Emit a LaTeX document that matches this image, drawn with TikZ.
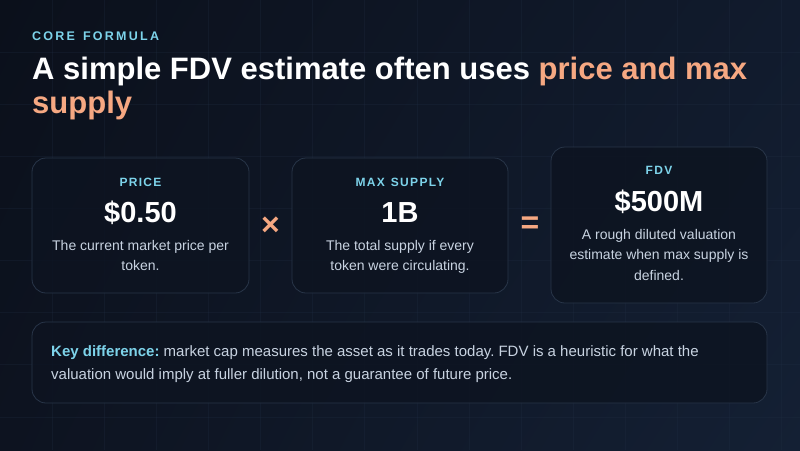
\documentclass[tikz,border=0pt]{standalone}
\usepackage{fontspec}
\usetikzlibrary{shadings}
\setmainfont{Liberation Sans}
\newfontfamily\capsfont{Liberation Sans}[LetterSpace=18]
\newfontfamily\labelfont{Liberation Sans}[LetterSpace=11]
\frenchspacing
\definecolor{bgA}{RGB}{11,16,27}
\definecolor{bgB}{RGB}{17,27,45}
\definecolor{bgC}{RGB}{13,19,32}
\definecolor{bgD}{RGB}{20,32,52}
\definecolor{gridc}{RGB}{34,48,70}
\definecolor{cardfill}{RGB}{13,20,33}
\definecolor{cardline}{RGB}{40,53,72}
\definecolor{cyanc}{RGB}{125,211,234}
\definecolor{salmon}{RGB}{246,168,130}
\definecolor{desc}{RGB}{200,211,225}
\begin{document}
\begin{tikzpicture}[x=1pt,y=-1pt,
  card/.style={draw=cardline,fill=cardfill,fill opacity=0.85,draw opacity=1,line width=0.8pt,rounded corners=14pt,inner sep=0pt},
  capslabel/.style={anchor=base,text=cyanc,font=\labelfont\bfseries\fontsize{12}{14}\selectfont},
  bignum/.style={anchor=base,text=white,font=\bfseries\fontsize{29}{32}\selectfont},
  desctext/.style={anchor=base,text=desc,font=\fontsize{14}{20}\selectfont},
  oper/.style={text=salmon,font=\bfseries\fontsize{32}{32}\selectfont,inner sep=0pt}]
\path[use as bounding box] (0,0) rectangle (800,450);
\shade[upper left=bgA,upper right=bgB,lower left=bgC,lower right=bgD] (0,0) rectangle (800,450);
\begin{scope}[draw=gridc,line width=0.6pt,opacity=0.25]
\foreach \i in {1,...,15} {\draw (52.1*\i,0) -- (52.1*\i,450);}
\foreach \j in {1,...,8} {\draw (0,52.1*\j) -- (800,52.1*\j);}
\end{scope}
% header
\node[anchor=base west,inner sep=0pt,text=cyanc,font=\capsfont\bfseries\fontsize{12.5}{14}\selectfont] (kicker) at (32,40) {CORE\hspace{2.3pt} FORMULA};
\node[anchor=base west,inner sep=0pt,text=white,font=\bfseries\fontsize{31}{34}\selectfont] (title1) at (32,79) {A simple FDV estimate often uses \textcolor{salmon}{price and max}};
\node[anchor=base west,inner sep=0pt,text=salmon,font=\bfseries\fontsize{31}{34}\selectfont] (title2) at (32,113) {supply};
% cards
\node[card,minimum width=217pt,minimum height=135pt] (c1) at (140.5,225.5) {};
\node[card,minimum width=216pt,minimum height=135pt] (c2) at (400,225.5) {};
\node[card,minimum width=216pt,minimum height=156pt] (c3) at (659,225) {};
\node[capslabel] (l1) at (140.5,186) {PRICE};
\node[bignum] (n1) at (140.5,222) {\$0.50};
\node[desctext] (d1a) at (140.5,250) {The current market price per};
\node[desctext] (d1b) at (140.5,270) {token.};
\node[capslabel] (l2) at (400,186) {MAX\hspace{1.3pt} SUPPLY};
\node[bignum] (n2) at (400,222) {1B};
\node[desctext] (d2a) at (400,250) {The total supply if every};
\node[desctext] (d2b) at (400,270) {token were circulating.};
\node[capslabel] (l3) at (659,174) {FDV};
\node[bignum] (n3) at (659,211) {\$500M};
\node[desctext] (d3a) at (659,239) {A rough diluted valuation};
\node[desctext] (d3b) at (659,259.5) {estimate when max supply is};
\node[desctext] (d3c) at (659,280) {defined.};
% operators
\node[oper] (times) at (270.5,226) {×};
\node[oper] (eq) at (530,225) {=};
% bottom box
\node[card,minimum width=735pt,minimum height=81pt] (kd) at (399.5,362.5) {};
\node[anchor=base west,inner sep=0pt,text=desc,font=\fontsize{15}{23}\selectfont] (kd1) at (51,356) {\textcolor{cyanc}{\bfseries Key difference:} market cap measures the asset as it trades today. FDV is a heuristic for what the};
\node[anchor=base west,inner sep=0pt,text=desc,font=\fontsize{15}{23}\selectfont] (kd2) at (51,379) {valuation would imply at fuller dilution, not a guarantee of future price.};
\end{tikzpicture}
\end{document}
